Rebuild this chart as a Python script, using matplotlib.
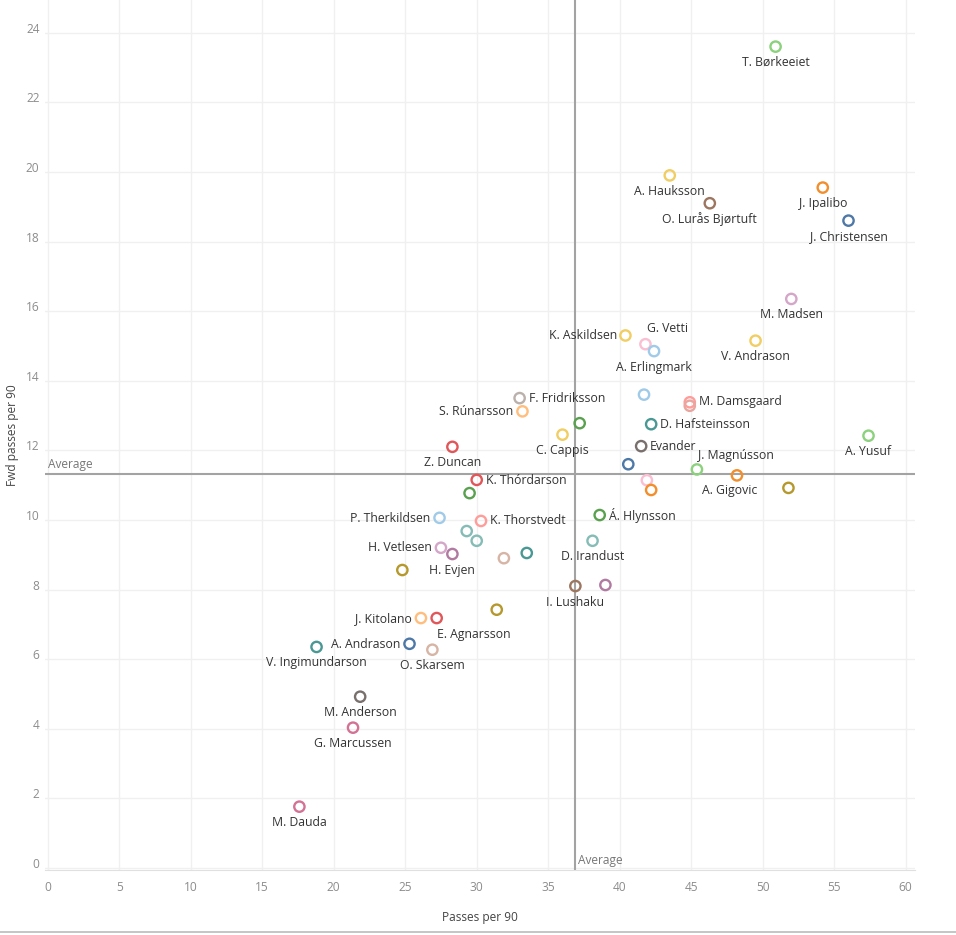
import matplotlib.pyplot as plt
import numpy as np

# player data (unlabelled points have empty names)
players = ["T. Børkeeiet", "A. Hauksson", "O. Lurås Bjørtuft", "J. Ipalibo", "J. Christensen",
           "M. Madsen", "K. Askildsen", "G. Vetti", "A. Erlingmark", "V. Andrason",
           "", "M. Damsgaard", "", "D. Hafsteinsson", "A. Yusuf",
           "F. Fridriksson", "S. Rúnarsson", "", "C. Cappis", "Evander",
           "", "J. Magnússon", "A. Gigovic", "", "",
           "", "Z. Duncan", "K. Thórdarson", "", "P. Therkildsen",
           "K. Thorstvedt", "", "", "H. Vetlesen", "H. Evjen",
           "", "", "", "Á. Hlynsson", "D. Irandust",
           "I. Lushaku", "", "", "J. Kitolano", "E. Agnarsson",
           "A. Andrason", "O. Skarsem", "V. Ingimundarson", "M. Anderson", "G. Marcussen",
           "M. Dauda"]
passes = [50.9, 43.5, 46.3, 54.2, 56.0,
          52.0, 40.4, 41.8, 42.4, 49.5,
          41.7, 44.9, 44.9, 42.2, 57.4,
          33.0, 33.2, 37.2, 36.0, 41.5,
          40.6, 45.4, 48.2, 41.9, 42.2,
          51.8, 28.3, 30.0, 29.5, 27.4,
          30.3, 29.3, 30.0, 27.5, 28.3,
          31.9, 33.5, 24.8, 38.6, 38.1,
          36.9, 39.0, 31.4, 26.1, 27.2,
          25.3, 26.9, 18.8, 21.85, 21.35,
          17.6]
fwd_passes = [23.6, 19.9, 19.1, 19.55, 18.6,
              16.35, 15.3, 15.05, 14.85, 15.15,
              13.6, 13.38, 13.28, 12.75, 12.42,
              13.5, 13.12, 12.78, 12.45, 12.12,
              11.6, 11.45, 11.28, 11.14, 10.86,
              10.92, 12.1, 11.15, 10.77, 10.06,
              9.97, 9.68, 9.4, 9.2, 9.02,
              8.9, 9.05, 8.56, 10.14, 9.4,
              8.1, 8.13, 7.42, 7.18, 7.18,
              6.44, 6.27, 6.35, 4.92, 4.03,
              1.76]
avg_passes = 36.87
avg_fwd = 11.33

colours = ["#8cd17d", "#f1ce63", "#9d7660", "#f28e2b", "#4e79a7",
           "#d4a6c8", "#f1ce63", "#fabfd2", "#a0cbe8", "#f1ce63",
           "#a0cbe8", "#ff9d9a", "#e8a6a0", "#499894", "#8cd17d",
           "#bab0ac", "#ffbe7d", "#59a14f", "#f1ce63", "#79706e",
           "#4e79a7", "#8cd17d", "#f28e2b", "#fabfd2", "#f28e2b",
           "#b6992d", "#e15759", "#e15759", "#59a14f", "#a0cbe8",
           "#ff9d9a", "#86bcb6", "#86bcb6", "#d4a6c8", "#b07aa1",
           "#d7b5a6", "#499894", "#b6992d", "#59a14f", "#86bcb6",
           "#9d7660", "#b07aa1", "#b6992d", "#ffbe7d", "#e15759",
           "#4e79a7", "#d7b5a6", "#499894", "#79706e", "#d37295",
           "#d37295"]

# label placement: (dx, dy, ha) in pixels
below = (0, -16, "center")
label_pos = {
    "G. Vetti": (22, 16, "center"),
    "K. Askildsen": (-8, 0, "right"),
    "M. Damsgaard": (9, 1, "left"),
    "D. Hafsteinsson": (9, 0, "left"),
    "F. Fridriksson": (9, 0, "left"),
    "S. Rúnarsson": (-9, 0, "right"),
    "Evander": (9, 0, "left"),
    "J. Magnússon": (39, 14, "center"),
    "A. Gigovic": (-7, -15, "center"),
    "K. Thórdarson": (9, -1, "left"),
    "P. Therkildsen": (-9, -1, "right"),
    "K. Thorstvedt": (9, 0, "left"),
    "H. Vetlesen": (-9, 0, "right"),
    "Á. Hlynsson": (9, 0, "left"),
    "J. Kitolano": (-9, -1, "right"),
    "E. Agnarsson": (37, -16, "center"),
    "A. Andrason": (-9, -1, "right"),
}

plt.rcParams['font.family'] = ['Open Sans', 'DejaVu Sans']

fig = plt.figure(figsize=(9.56, 9.35), dpi=100)
ax = fig.add_axes([45 / 956, 65 / 935, 870 / 956, 870 / 935])

ax.set_xlim(-0.19, 60.65)
ax.set_ylim(-0.06, 24.94)
ax.set_xticks(np.arange(0, 61, 5))
ax.set_yticks(np.arange(0, 25, 2))
ax.grid(True, color="#f0f0f0", linewidth=1)
ax.set_axisbelow(True)
for s in ["top", "right", "left"]:
    ax.spines[s].set_visible(False)
ax.spines["bottom"].set_color("#e0e0e0")
ax.tick_params(length=0, labelsize=8.6, labelcolor="#8c8c8c")
ax.tick_params(axis="x", pad=8)
ax.tick_params(axis="y", pad=4)
for t in ax.get_yticklabels():
    t.set_va("baseline")

ax.axhline(avg_fwd, color="#a3a3a3", linewidth=1.5, zorder=1)
ax.axvline(avg_passes, color="#a3a3a3", linewidth=1.5, zorder=1)
ax.text(0.05, avg_fwd + 0.07, "Average", fontsize=8.6, color="#777777", ha="left", va="bottom")
ax.text(avg_passes + 0.2, 0.03, "Average", fontsize=8.6, color="#777777", ha="left", va="bottom")

ax.scatter(passes, fwd_passes, s=55, facecolors="none", edgecolors=colours,
           linewidths=1.7, zorder=3)

for name, x, y in zip(players, passes, fwd_passes):
    if not name:
        continue
    dx, dy, ha = label_pos.get(name, below)
    ax.annotate(name, (x, y), xytext=(dx, dy), textcoords="offset pixels",
                ha=ha, va="center", fontsize=8.8, color="#333333")

ax.set_xlabel("Passes per 90", fontsize=8.6, color="#444444", labelpad=12)
ax.set_ylabel("Fwd passes per 90", fontsize=8.6, color="#444444", labelpad=5)

fig.add_artist(plt.Line2D([0, 1], [3 / 935, 3 / 935], color="#bbbbbb", linewidth=1.2,
                          transform=fig.transFigure))

fig.savefig("out.png", dpi=100, facecolor="white")
